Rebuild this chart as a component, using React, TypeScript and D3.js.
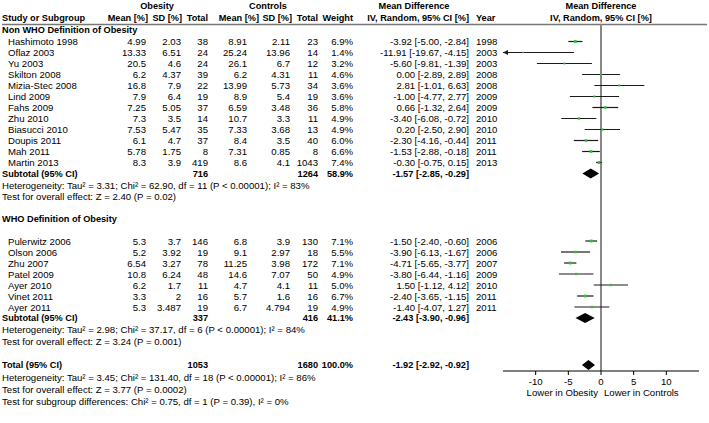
import React from 'react';
import * as d3 from 'd3';

// ---------- DATA ----------
const g1Names = ['Hashimoto 1998', 'Oflaz 2003', 'Yu 2003', 'Skilton 2008', 'Mizia-Stec 2008', 'Lind 2009', 'Fahs 2009', 'Zhu 2010', 'Biasucci 2010', 'Doupis 2011', 'Mah 2011', 'Martin 2013'];
const g1ObMean = [4.99, 13.33, 20.5, 6.2, 16.8, 7.9, 7.25, 7.3, 7.53, 6.1, 5.78, 8.3];
const g1ObSD = [2.03, 6.51, 4.6, 4.37, 7.9, 6.4, 5.05, 3.5, 5.47, 4.7, 1.75, 3.9];
const g1ObN = [38, 24, 24, 39, 22, 19, 37, 14, 35, 37, 8, 419];
const g1CtMean = [8.91, 25.24, 26.1, 6.2, 13.99, 8.9, 6.59, 10.7, 7.33, 8.4, 7.31, 8.6];
const g1CtSD = [2.11, 13.96, 6.7, 4.31, 5.73, 5.4, 3.48, 3.3, 3.68, 3.5, 0.85, 4.1];
const g1CtN = [23, 14, 12, 11, 34, 19, 36, 11, 13, 40, 8, 1043];
const g1Weight = [6.9, 1.4, 3.2, 4.6, 3.6, 3.6, 5.8, 4.9, 4.9, 6.0, 6.6, 7.4];
const g1MD = [-3.92, -11.91, -5.6, 0.0, 2.81, -1.0, 0.66, -3.4, 0.2, -2.3, -1.53, -0.3];
const g1Lo = [-5.0, -19.67, -9.81, -2.89, -1.01, -4.77, -1.32, -6.08, -2.5, -4.16, -2.88, -0.75];
const g1Hi = [-2.84, -4.15, -1.39, 2.89, 6.63, 2.77, 2.64, -0.72, 2.9, -0.44, -0.18, 0.15];
const g1Year = [1998, 2003, 2003, 2008, 2008, 2009, 2009, 2010, 2010, 2011, 2011, 2013];

const g2Names = ['Pulerwitz 2006', 'Olson 2006', 'Zhu 2007', 'Patel 2009', 'Ayer 2010', 'Vinet 2011', 'Ayer 2011'];
const g2ObMean = [5.3, 5.2, 6.54, 10.8, 6.2, 3.3, 5.3];
const g2ObSD = [3.7, 3.92, 3.27, 6.24, 1.7, 2, 3.487];
const g2ObN = [146, 19, 78, 48, 11, 16, 19];
const g2CtMean = [6.8, 9.1, 11.25, 14.6, 4.7, 5.7, 6.7];
const g2CtSD = [3.9, 2.97, 3.98, 7.07, 4.1, 1.6, 4.794];
const g2CtN = [130, 18, 172, 50, 11, 16, 19];
const g2Weight = [7.1, 5.5, 7.1, 4.9, 5.0, 6.7, 4.9];
const g2MD = [-1.5, -3.9, -4.71, -3.8, 1.5, -2.4, -1.4];
const g2Lo = [-2.4, -6.13, -5.65, -6.44, -1.12, -3.65, -4.07];
const g2Hi = [-0.6, -1.67, -3.77, -1.16, 4.12, -1.15, 1.27];
const g2Year = [2006, 2006, 2007, 2009, 2010, 2011, 2011];

// subtotal / total: [obN, ctN, weight, md, lo, hi]
const sub1 = [716, 1264, 58.9, -1.57, -2.85, -0.29];
const sub2 = [337, 416, 41.1, -2.43, -3.9, -0.96];
const total = [1053, 1680, 100.0, -1.92, -2.92, -0.92];

const groupTitles = ['Non WHO Definition of Obesity', 'WHO Definition of Obesity'];
const hetTexts = [
  'Heterogeneity: Tau² = 3.31; Chi² = 62.90, df = 11 (P < 0.00001); I² = 83%',
  'Heterogeneity: Tau² = 2.98; Chi² = 37.17, df = 6 (P < 0.00001); I² = 84%',
  'Heterogeneity: Tau² = 3.45; Chi² = 131.40, df = 18 (P < 0.00001); I² = 86%',
];
const testTexts = [
  'Test for overall effect: Z = 2.40 (P = 0.02)',
  'Test for overall effect: Z = 3.24 (P = 0.001)',
  'Test for overall effect: Z = 3.77 (P = 0.0002)',
];
const subgroupText = 'Test for subgroup differences: Chi² = 0.75, df = 1 (P = 0.39), I² = 0%';
const axisTicks = [-10, -5, 0, 5, 10];
const axisDomain = [-15, 15];
const axisLeftLabel = 'Lower in Obesity';
const axisRightLabel = 'Lower in Controls';

// ---------- LAYOUT ----------
const W = 709, H = 423;
const FONT = '"Liberation Sans", Arial, sans-serif';
const FS = 9.6;
const FSB = 9.2;
const col = { name: 8, obMean: 146, obSD: 181, obN: 208, ctMean: 247, ctSD: 290, ctN: 318, weight: 353, md: 469, year: 476 };

const x = d3.scaleLinear().domain(axisDomain).range([503, 699]);
const sq = d3.scaleSqrt().domain([0, 8]).range([0, 3]);

const fmt2 = (v: number) => v.toFixed(2);
const ciText = (m: number, l: number, h: number) => `${fmt2(m)} [${fmt2(l)}, ${fmt2(h)}]`;

export default function App() {
  const y1 = (i: number) => 41.5 + i * 11;
  const g1TitleY = 30;
  const sub1Y = y1(12);
  const het1Y = sub1Y + 11.5;
  const test1Y = het1Y + 11.5;
  const g2TitleY = 219;
  const y2 = (i: number) => 241 + i * 11;
  const sub2Y = y2(7);
  const het2Y = sub2Y + 11.5;
  const test2Y = het2Y + 11.5;
  const totY = 365;
  const het3Y = totY + 12;
  const test3Y = het3Y + 12;
  const subgY = test3Y + 12;
  const axisY = 371;

  const T = (props: any) => <text fontFamily={FONT} fontSize={FS} dominantBaseline="central" fill="#000" {...props} />;
  const B = (props: any) => <text fontFamily={FONT} fontSize={FSB} fontWeight="bold" dominantBaseline="central" fill="#000" {...props} />;

  const studyRow = (names: string[], om: number[], os: number[], on: number[], cm: number[], cs: number[], cn: number[], w: number[], md: number[], lo: number[], hi: number[], yr: number[], yf: (i: number) => number) =>
    names.map((n, i) => {
      const y = yf(i);
      const l = Math.max(lo[i], axisDomain[0]);
      const h = Math.min(hi[i], axisDomain[1]);
      const s = sq(w[i]);
      return (
        <g key={n}>
          <T x={col.name} y={y}>{n}</T>
          <T x={col.obMean} y={y} textAnchor="end">{String(om[i])}</T>
          <T x={col.obSD} y={y} textAnchor="end">{String(os[i])}</T>
          <T x={col.obN} y={y} textAnchor="end">{String(on[i])}</T>
          <T x={col.ctMean} y={y} textAnchor="end">{String(cm[i])}</T>
          <T x={col.ctSD} y={y} textAnchor="end">{String(cs[i])}</T>
          <T x={col.ctN} y={y} textAnchor="end">{String(cn[i])}</T>
          <T x={col.weight} y={y} textAnchor="end">{w[i].toFixed(1) + '%'}</T>
          <T x={col.md} y={y} textAnchor="end">{ciText(md[i], lo[i], hi[i])}</T>
          <T x={col.year} y={y}>{String(yr[i])}</T>
          <line x1={x(l)} x2={x(h)} y1={y} y2={y} stroke="#1a1a1a" strokeWidth={1.2} />
          {lo[i] < axisDomain[0] && (
            <path d={`M${x(axisDomain[0])},${y} l5,-2.5 l0,5 z`} fill="#1a1a1a" />
          )}
          <rect x={x(md[i]) - s / 2} y={y - s / 2} width={s} height={s} fill="#2fbf3a" />
        </g>
      );
    });

  const diamond = (vals: number[], y: number) => {
    const [, , , m, l, h] = vals;
    const dh = 5;
    return <path d={`M${x(l)},${y} L${x(m)},${y - dh} L${x(h)},${y} L${x(m)},${y + dh} Z`} fill="#000" />;
  };

  const summaryRow = (label: string, vals: number[], y: number) => (
    <g>
      <B x={2} y={y}>{label}</B>
      <B x={col.obN} y={y} textAnchor="end">{String(vals[0])}</B>
      <B x={col.ctN} y={y} textAnchor="end">{String(vals[1])}</B>
      <B x={col.weight} y={y} textAnchor="end">{vals[2].toFixed(1) + '%'}</B>
      <B x={col.md} y={y} textAnchor="end">{ciText(vals[3], vals[4], vals[5])}</B>
      {diamond(vals, y)}
    </g>
  );

  return (
    <svg width={W} height={H} style={{ position: 'absolute', left: 0, top: 0, background: '#fff' }}>
      {/* headers */}
      <B x={157} y={6} textAnchor="middle">Obesity</B>
      <B x={268} y={6} textAnchor="middle">Controls</B>
      <B x={414} y={6} textAnchor="middle">Mean Difference</B>
      <B x={601} y={6} textAnchor="middle">Mean Difference</B>
      <B x={2} y={18}>Study or Subgroup</B>
      <B x={148} y={18} textAnchor="end">Mean [%]</B>
      <B x={182} y={18} textAnchor="end">SD [%]</B>
      <B x={208} y={18} textAnchor="end">Total</B>
      <B x={259} y={18} textAnchor="end">Mean [%]</B>
      <B x={292} y={18} textAnchor="end">SD [%]</B>
      <B x={318} y={18} textAnchor="end">Total</B>
      <B x={353} y={18} textAnchor="end">Weight</B>
      <B x={469} y={18} textAnchor="end">IV, Random, 95% CI [%]</B>
      <B x={476} y={18}>Year</B>
      <B x={601} y={18} textAnchor="middle">IV, Random, 95% CI [%]</B>
      <line x1={2} x2={707} y1={24.5} y2={24.5} stroke="#777" strokeWidth={1.5} />

      {/* zero line */}
      <line x1={x(0)} x2={x(0)} y1={24} y2={axisY} stroke="#888" strokeWidth={2} />

      {/* group 1 */}
      <B x={2} y={g1TitleY}>{groupTitles[0]}</B>
      {studyRow(g1Names, g1ObMean, g1ObSD, g1ObN, g1CtMean, g1CtSD, g1CtN, g1Weight, g1MD, g1Lo, g1Hi, g1Year, y1)}
      {summaryRow('Subtotal (95% CI)', sub1, sub1Y)}
      <T x={2} y={het1Y}>{hetTexts[0]}</T>
      <T x={2} y={test1Y}>{testTexts[0]}</T>

      {/* group 2 */}
      <B x={2} y={g2TitleY}>{groupTitles[1]}</B>
      {studyRow(g2Names, g2ObMean, g2ObSD, g2ObN, g2CtMean, g2CtSD, g2CtN, g2Weight, g2MD, g2Lo, g2Hi, g2Year, y2)}
      {summaryRow('Subtotal (95% CI)', sub2, sub2Y)}
      <T x={2} y={het2Y}>{hetTexts[1]}</T>
      <T x={2} y={test2Y}>{testTexts[1]}</T>

      {/* total */}
      {summaryRow('Total (95% CI)', total, totY)}
      <T x={2} y={het3Y}>{hetTexts[2]}</T>
      <T x={2} y={test3Y}>{testTexts[2]}</T>
      <T x={2} y={subgY}>{subgroupText}</T>

      {/* axis */}
      <line x1={x(axisDomain[0])} x2={x(axisDomain[1])} y1={axisY} y2={axisY} stroke="#000" strokeWidth={1} />
      {axisTicks.map((t) => (
        <g key={t}>
          <line x1={x(t)} x2={x(t)} y1={axisY} y2={axisY + 4} stroke="#000" strokeWidth={1} />
          <T x={x(t)} y={axisY + 10} textAnchor="middle">{String(t)}</T>
        </g>
      ))}
      <T x={x(0) - 3} y={axisY + 21} textAnchor="end">{axisLeftLabel}</T>
      <T x={x(0) + 3} y={axisY + 21}>{axisRightLabel}</T>
    </svg>
  );
}
